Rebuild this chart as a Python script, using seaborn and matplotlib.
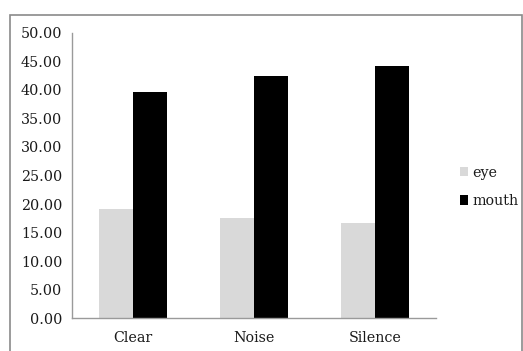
#!/usr/bin/env python3
import numpy as np
import pandas as pd
import seaborn as sns
import matplotlib.pyplot as plt
from matplotlib.patches import Rectangle

conditions = ["Clear", "Noise", "Silence"]
eye = [19.1, 17.6, 16.7]
mouth = [39.6, 42.4, 44.2]
yticks = [0, 5, 10, 15, 20, 25, 30, 35, 40, 45, 50]

df = pd.DataFrame({
	"condition": conditions * 2,
	"region": ["eye"] * 3 + ["mouth"] * 3,
	"value": eye + mouth,
})

sns.set_style("white")
plt.rcParams['font.family'] = ['DejaVu Serif']
plt.rcParams['text.color'] = '#1a1a1a'

fig = plt.figure(figsize=(5.23, 3.51), dpi=100)
ax = fig.add_axes([0.1377, 0.094, 0.696, 0.812])

sns.barplot(data=df, x="condition", y="value", hue="region",
	palette={"eye": "#d9d9d9", "mouth": "#000000"},
	width=0.56, gap=0, errorbar=None, ax=ax, saturation=1, linewidth=0)

ax.set_xlim(-0.5, 2.5)
ax.set_ylim(0, 50)
ax.set_yticks(yticks)
ax.set_yticklabels(["%.2f" % v for v in yticks], fontsize=10.3, color="#1a1a1a")
ax.set_xlabel("")
ax.set_ylabel("")
ax.tick_params(axis="x", length=0, labelsize=10.3, labelcolor="#1a1a1a", pad=9)
ax.set_xticks([-0.5, 0.5, 1.5, 2.5], minor=True)
ax.tick_params(axis="x", which="minor", length=4, color="#9a9a9a", direction="out")
ax.tick_params(axis="y", length=4, color="#9a9a9a", direction="out", pad=3)

for s in ["top", "right"]:
	ax.spines[s].set_visible(False)
for s in ["left", "bottom"]:
	ax.spines[s].set_color("#9a9a9a")
	ax.spines[s].set_linewidth(1.0)

leg = ax.legend(loc="center left", bbox_to_anchor=(1.03, 0.46), frameon=False,
	fontsize=10.3, handlelength=0.6, handleheight=0.6, handletextpad=0.25, labelspacing=1.0)

fig.patches.append(Rectangle((10 / 523, -0.05), 512 / 523, 1.05 - 15 / 351 + 0.0,
	transform=fig.transFigure, fill=False, edgecolor="#8a8a8a", linewidth=1.2))

plt.savefig("out.png", dpi=100)
